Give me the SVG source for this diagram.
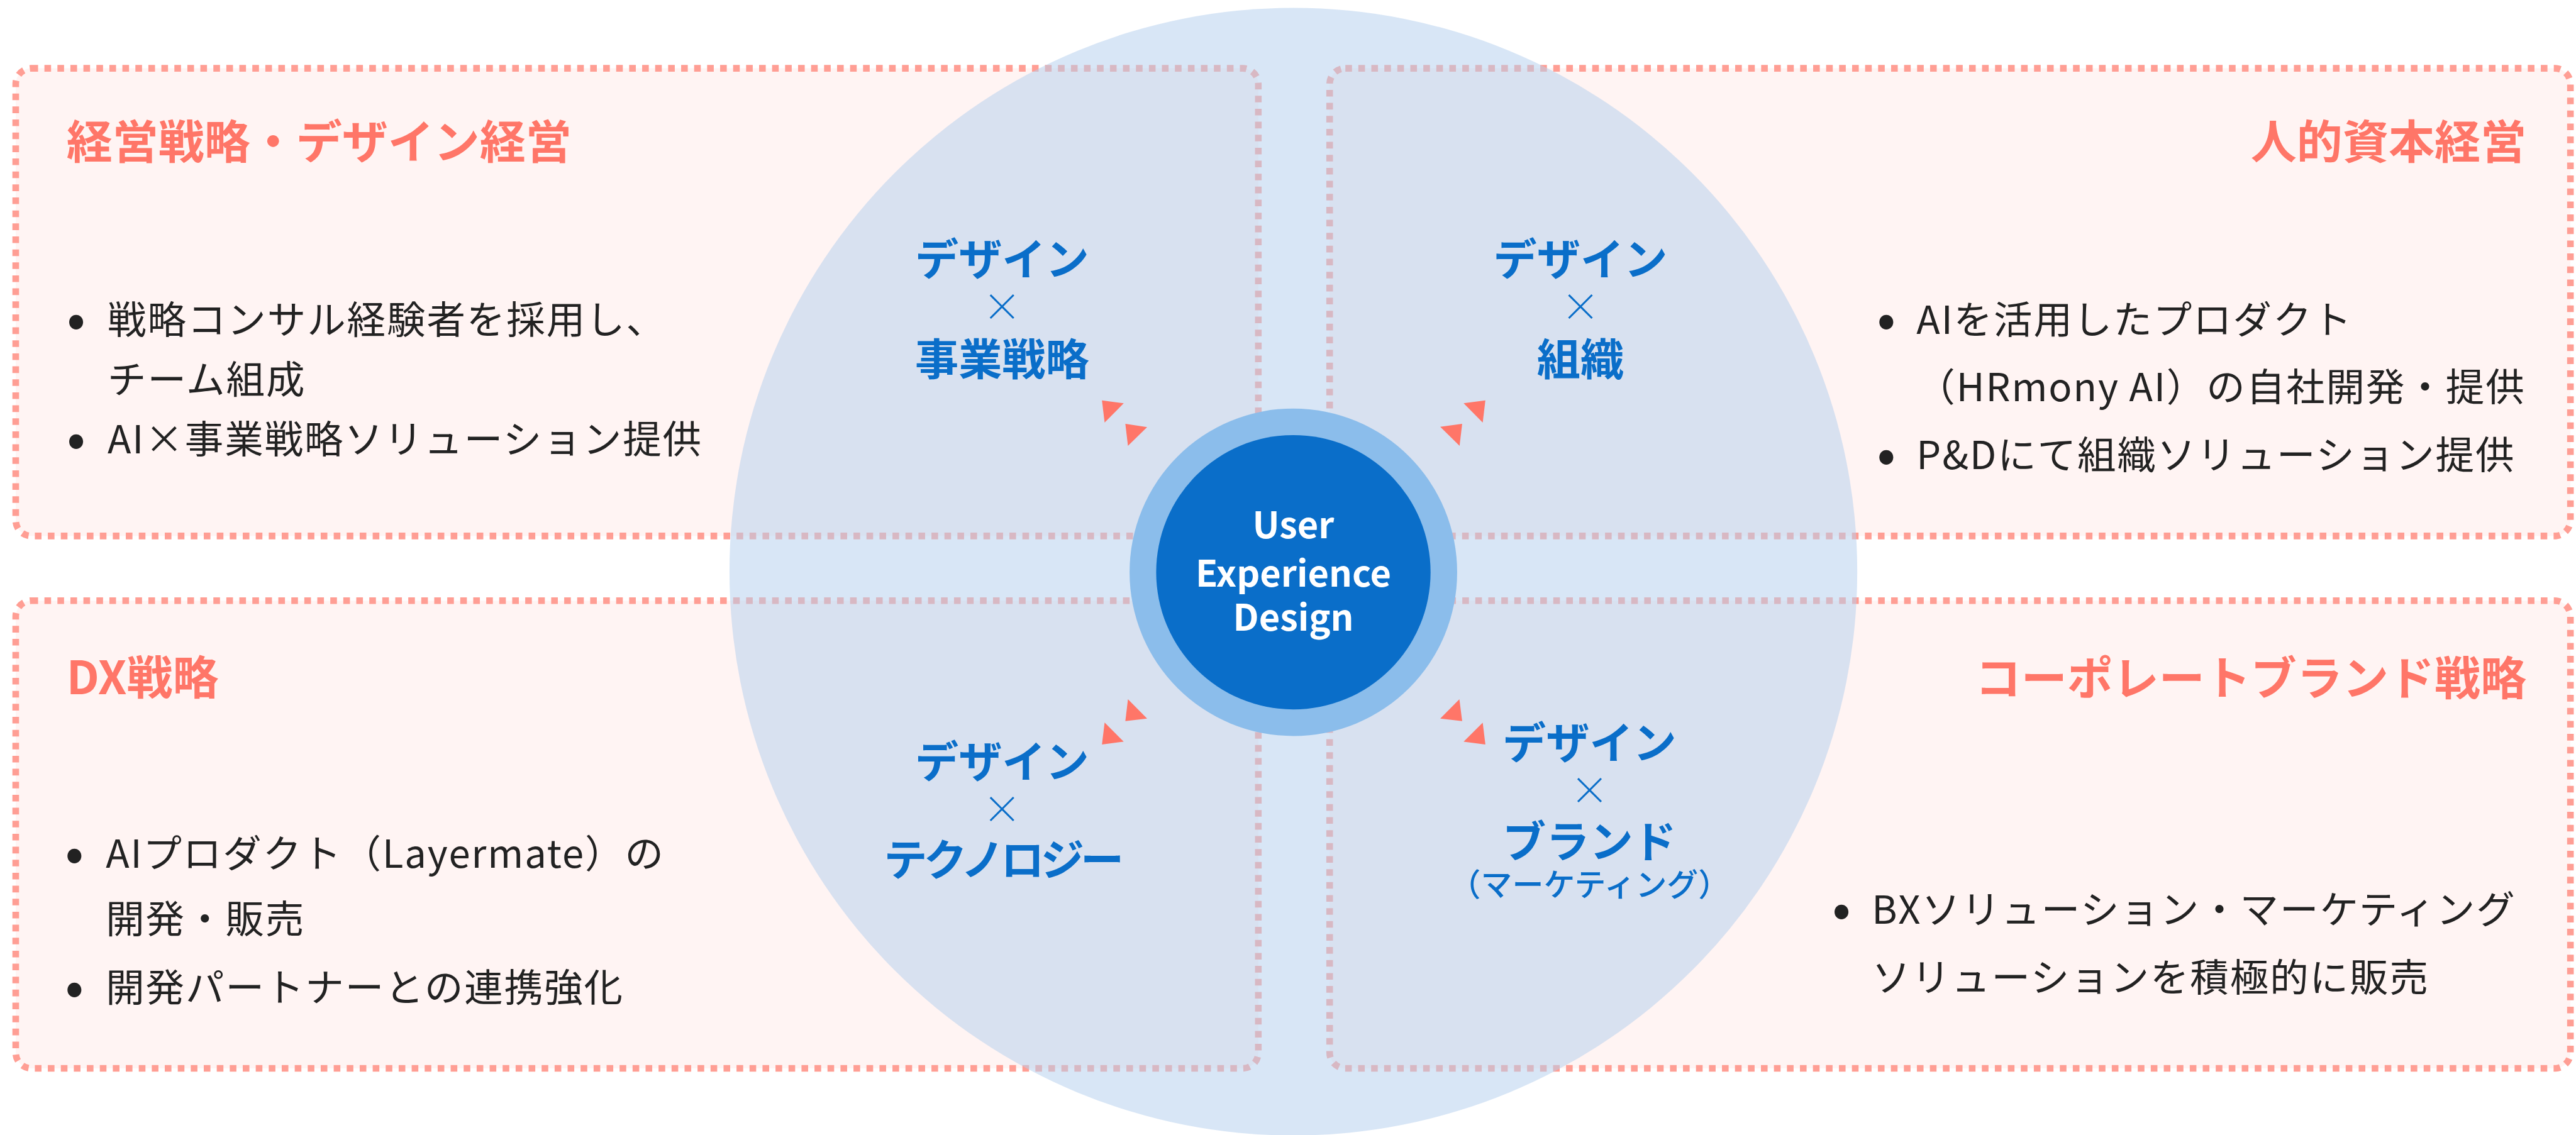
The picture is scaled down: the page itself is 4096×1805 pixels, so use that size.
<svg xmlns="http://www.w3.org/2000/svg" width="4096" height="1805" viewBox="0 0 4096 1805">
<defs>
<style>
.box{fill:#fff4f3;stroke:#ff9e94;stroke-width:11;stroke-dasharray:11 10.5}
.title{font-family:"Noto Sans CJK JP",sans-serif;font-weight:700;font-size:76px;fill:#ff7668}
.body{font-family:"Noto Sans CJK JP",sans-serif;font-weight:400;font-size:64px;fill:#222222;letter-spacing:2px}
.bullet{font-family:"Noto Sans CJK JP",sans-serif;font-weight:700;font-size:80px;fill:#222222;text-anchor:middle}
.lbl{font-family:"Noto Sans CJK JP",sans-serif;font-weight:700;font-size:72px;fill:#0a6ec9;text-anchor:middle}
.x{font-weight:300;font-size:64px}
.sub{font-weight:500;font-size:52px}
.core{font-family:"Noto Sans CJK JP",sans-serif;font-weight:700;font-size:60px;fill:#ffffff;text-anchor:middle}
.tri{fill:#ff7668}
</style>
</defs>
<rect width="4096" height="1805" fill="#ffffff"/>
<g transform="scale(0.961)">
  <g id="box-tl"><rect class="box" x="26" y="113" width="2056" height="774" rx="26"/></g>
  <g id="box-tr"><rect class="box" x="2200" y="113" width="2053" height="774" rx="26"/></g>
  <g id="box-bl"><rect class="box" x="26" y="994" width="2056" height="774" rx="26"/></g>
  <g id="box-br"><rect class="box" x="2200" y="994" width="2053" height="774" rx="26"/></g>

  <g id="outer-circle"><circle cx="2140" cy="946" r="933" fill="#b5cfee" fill-opacity="0.53"/></g>

  <g id="core">
    <circle cx="2140" cy="947" r="271" fill="#8bbdeb"/>
    <circle cx="2140" cy="947" r="227" fill="#0a6ec9"/>
    <text class="core"><tspan x="2140" y="891">User</tspan><tspan x="2140" y="971">Experience</tspan><tspan x="2140" y="1044">Design</tspan></text>
  </g>

  <g id="connectors">
    <polygon class="tri" points="1823.3,662.7 1859.3,667.3 1827.7,699.3"/>
    <polygon class="tri" points="1862,701.3 1898,706.7 1866.3,737.7"/>
    <polygon class="tri" points="2421.7,667.3 2457.7,662.7 2453.3,699.3"/>
    <polygon class="tri" points="2383,706.3 2419.3,701.3 2415,737.7"/>
    <polygon class="tri" points="1866.3,1157 1898,1189 1862,1193.3"/>
    <polygon class="tri" points="1827.7,1195.7 1859.3,1227.3 1823.3,1232"/>
    <polygon class="tri" points="2414.7,1157 2419.3,1193.3 2383,1189"/>
    <polygon class="tri" points="2453.3,1196 2457.7,1232 2421.7,1227.3"/>
  </g>

  <g id="quad-tl">
    <text class="title" x="110" y="262">経営戦略・デザイン経営</text>
    <text class="bullet" x="126" y="557">•</text>
    <text class="body"><tspan x="178" y="553">戦略コンサル経験者を採用し、</tspan><tspan x="178" y="651">チーム組成</tspan></text>
    <text class="bullet" x="126" y="754">•</text>
    <text class="body" x="178" y="750">AI×事業戦略ソリューション提供</text>
  </g>

  <g id="quad-tr">
    <text class="title" x="4180" y="262" text-anchor="end">人的資本経営</text>
    <text class="bullet" x="3121" y="557">•</text>
    <text class="body"><tspan x="3171" y="553">AIを活用したプロダクト</tspan><tspan x="3171" y="664">（HRmony AI）の自社開発・提供</tspan></text>
    <text class="bullet" x="3121" y="780">•</text>
    <text class="body" x="3171" y="776">P&amp;Dにて組織ソリューション提供</text>
  </g>

  <g id="quad-bl">
    <text class="title" x="110" y="1149">DX戦略</text>
    <text class="bullet" x="123" y="1440">•</text>
    <text class="body"><tspan x="175" y="1436">AIプロダクト（Layermate）の</tspan><tspan x="175" y="1544">開発・販売</tspan></text>
    <text class="bullet" x="123" y="1662">•</text>
    <text class="body" x="175" y="1658">開発パートナーとの連携強化</text>
  </g>

  <g id="quad-br">
    <text class="title" x="4180" y="1150" text-anchor="end">コーポレートブランド戦略</text>
    <text class="bullet" x="3047" y="1533">•</text>
    <text class="body"><tspan x="3097" y="1529">BXソリューション・マーケティング</tspan><tspan x="3097" y="1641">ソリューションを積極的に販売</tspan></text>
  </g>

  <g id="label-tl">
    <text class="lbl"><tspan x="1658" y="456">デザイン</tspan><tspan class="x" x="1658" y="532">×</tspan><tspan x="1658" y="621">事業戦略</tspan></text>
  </g>
  <g id="label-tr">
    <text class="lbl"><tspan x="2615" y="456">デザイン</tspan><tspan class="x" x="2615" y="532">×</tspan><tspan x="2615" y="621">組織</tspan></text>
  </g>
  <g id="label-bl">
    <text class="lbl"><tspan x="1658" y="1287">デザイン</tspan><tspan class="x" x="1658" y="1363">×</tspan><tspan x="1658" y="1450" letter-spacing="-6">テクノロジー</tspan></text>
  </g>
  <g id="label-br">
    <text class="lbl"><tspan x="2630" y="1256">デザイン</tspan><tspan class="x" x="2630" y="1332">×</tspan><tspan x="2630" y="1419">ブランド</tspan><tspan class="sub" x="2630" y="1483">（マーケティング）</tspan></text>
  </g>
</g>
</svg>
